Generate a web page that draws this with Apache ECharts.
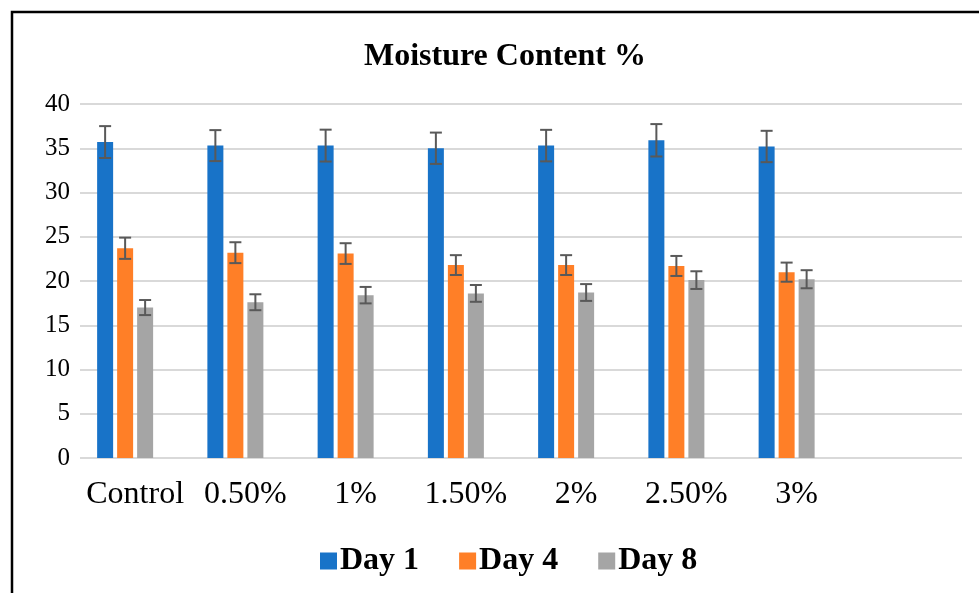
<!DOCTYPE html>
<html>
<head>
<meta charset="utf-8">
<script src="https://cdn.jsdelivr.net/npm/echarts@6/dist/echarts.min.js"></script>
<style>
html,body{margin:0;padding:0;background:#fff;}
#chart{width:979px;height:593px;}
</style>
</head>
<body>
<div id="chart"></div>
<script>
var categories = ['Control', '0.50%', '1%', '1.50%', '2%', '2.50%', '3%', ''];
var seriesNames = ['Day 1', 'Day 4', 'Day 8'];
var day1 = [35.7, 35.3, 35.3, 35.0, 35.3, 35.9, 35.2];
var day4 = [23.7, 23.2, 23.1, 21.8, 21.8, 21.7, 21.0];
var day8 = [17.0, 17.6, 18.4, 18.6, 18.7, 20.1, 20.2];
var err1 = [1.8, 1.75, 1.8, 1.77, 1.78, 1.83, 1.77];
var err4 = [1.2, 1.18, 1.17, 1.12, 1.12, 1.13, 1.08];
var err8 = [0.85, 0.9, 0.93, 0.95, 0.95, 1.0, 1.02];
var yTicks = [0, 5, 10, 15, 20, 25, 30, 35, 40];

var colors = ['#1873C8', '#FF7F27', '#A5A5A5'];
var values = [day1, day4, day8];
var errs = [err1, err4, err8];
var BAR_W = 16, BAR_GAP = 4, SLOTS = 4;
var serif = '"Liberation Serif", "Times New Roman", serif';

function errSeries(s) {
  var data = values[s].map(function (v, i) { return [i, v, errs[s][i]]; });
  return {
    type: 'custom',
    name: seriesNames[s] + ' err',
    z: 10,
    silent: true,
    data: data,
    renderItem: function (params, api) {
      var i = api.value(0), v = api.value(1), e = api.value(2);
      var c = api.coord([i, v]);
      var off = (s - (SLOTS - 1) / 2) * (BAR_W + BAR_GAP);
      var x = c[0] + off;
      var top = api.coord([i, v + e])[1];
      var bot = api.coord([i, v - e])[1];
      var cap = 6;
      var st = { stroke: '#595959', lineWidth: 2 };
      return {
        type: 'group',
        children: [
          { type: 'line', shape: { x1: x, y1: top, x2: x, y2: bot }, style: st },
          { type: 'line', shape: { x1: x - cap, y1: top, x2: x + cap, y2: top }, style: st },
          { type: 'line', shape: { x1: x - cap, y1: bot, x2: x + cap, y2: bot }, style: st }
        ]
      };
    }
  };
}

var series = [];
for (var s = 0; s < 3; s++) {
  series.push({
    type: 'bar',
    name: seriesNames[s],
    data: values[s],
    barWidth: BAR_W,
    barGap: (BAR_GAP / BAR_W * 100) + '%',
    itemStyle: { color: colors[s] }
  });
}
// empty fourth slot (reserved but unused in the original chart)
series.push({ type: 'bar', name: '', data: [], barWidth: BAR_W, barGap: (BAR_GAP / BAR_W * 100) + '%' });
for (var s2 = 0; s2 < 3; s2++) series.push(errSeries(s2));

var chart = echarts.init(document.getElementById('chart'));
chart.setOption({
  animation: false,
  backgroundColor: '#fff',
  title: {
    text: 'Moisture Content %',
    left: 500,
    top: 36,
    textAlign: 'center',
    textStyle: { fontFamily: serif, fontWeight: 'bold', fontSize: 32, color: '#000' }
  },
  legend: {
    data: seriesNames,
    left: 315,
    top: 540,
    icon: 'rect',
    itemWidth: 17,
    itemHeight: 17,
    itemGap: 40,
    textStyle: { fontFamily: serif, fontWeight: 'bold', fontSize: 32, color: '#000', padding: [0, 0, 0, -2] }
  },
  grid: { left: 80, right: 17, top: 104, bottom: 135, containLabel: false },
  xAxis: {
    type: 'category',
    data: categories,
    axisLine: { show: false },
    axisTick: { show: false },
    axisLabel: { fontFamily: serif, fontSize: 32, color: '#000', margin: 21, interval: 0 }
  },
  yAxis: {
    type: 'value',
    min: yTicks[0],
    max: yTicks[yTicks.length - 1],
    interval: yTicks[1] - yTicks[0],
    axisLine: { show: false },
    axisTick: { show: false },
    axisLabel: { fontFamily: serif, fontSize: 25, color: '#000', margin: 10 },
    splitLine: { lineStyle: { color: '#D9D9D9', width: 2 } }
  },
  graphic: [{
    type: 'rect',
    shape: { x: 12, y: 12, width: 2000, height: 2000 },
    style: { fill: 'none', stroke: '#000', lineWidth: 2.5 },
    z: 100
  }],
  series: series
});
</script>
</body>
</html>
